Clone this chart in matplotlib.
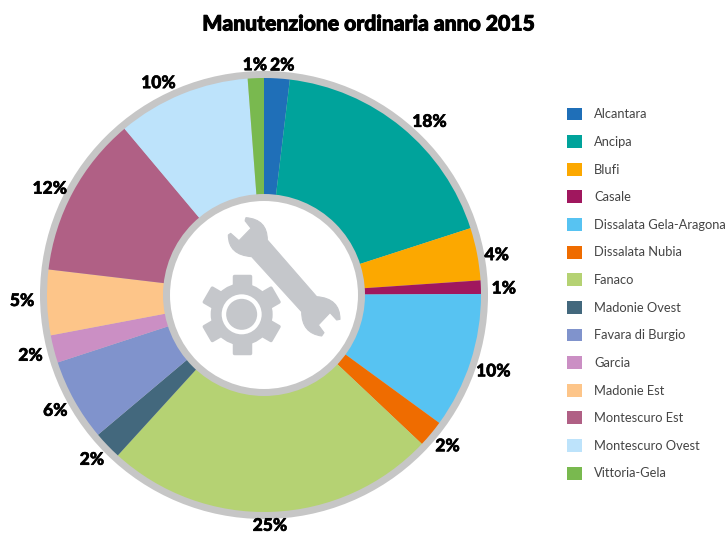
import numpy as np
import matplotlib
matplotlib.use("Agg")
import matplotlib.pyplot as plt
import matplotlib.patheffects as pe
from matplotlib.patches import Circle, PathPatch, Polygon
from matplotlib.path import Path

title = "Manutenzione ordinaria anno 2015"
categories = ["Alcantara", "Ancipa", "Blufi", "Casale", "Dissalata Gela-Aragona",
              "Dissalata Nubia", "Fanaco", "Madonie Ovest", "Favara di Burgio", "Garcia",
              "Madonie Est", "Montescuro Est", "Montescuro Ovest", "Vittoria-Gela"]
values = [1.9, 18.1, 3.9, 1.0, 10.1, 2.0, 24.7, 2.1, 6.1, 2.05, 4.85, 12.0, 9.9, 1.2]
colors = ["#1f6fb8", "#00a39b", "#fca800", "#a0175e", "#57c3f2", "#ef6c00", "#b5d273",
          "#43687d", "#8093cc", "#cb8fc4", "#fdc589", "#b06085", "#bde3fb", "#79b94f"]
# pixel nudges of the percentage labels away from their slice's mid-angle
label_dx = [4, 13, -3, 0, 1, -1, -3, 1, 1, -1, -2, -3, -15, 0]
label_dy = [-2, -6, -4, -2, -5, -3, 1, -4, -3, -3, 2, -4, -3, -2]

W, H = 728, 534
CX, CY = 264, H - 295
fig = plt.figure(figsize=(W / 100, H / 100), dpi=100)
ax = fig.add_axes([0, 0, 1, 1])
ax.set_xlim(0, W)
ax.set_ylim(0, H)
ax.set_aspect("equal")
ax.axis("off")

RING = "#c6c6c6"
ICON = "#c5c7cb"
ax.add_patch(Circle((CX, CY), 224, fc=RING, ec="none", zorder=1))
wedges, _ = ax.pie(values, colors=colors, startangle=90, counterclock=False,
                   radius=217, center=(CX, CY), frame=True,
                   wedgeprops=dict(linewidth=0, zorder=2))
ax.set_xlim(0, W)
ax.set_ylim(0, H)
ax.axis("off")
for w in wedges:
    w.set_zorder(2)
ax.add_patch(Circle((CX, CY), 101, fc=RING, ec="none", zorder=3))
ax.add_patch(Circle((CX, CY), 94, fc="white", ec="none", zorder=4))

# percentage labels
cum = np.cumsum(values)
total = cum[-1]
for v, c, dx, dy in zip(values, cum, label_dx, label_dy):
    a = 2 * np.pi * (c - v / 2) / total
    txt = ax.text(CX + 240 * np.sin(a) + dx, CY + 232 * np.cos(a) + dy, f"{round(v)}%",
                  ha="center", va="center", fontsize=12.5, family="Lato", weight="black",
                  color="black", zorder=6)
    txt.set_path_effects([pe.withStroke(linewidth=0.4, foreground="black")])

# icon: helpers map zoom-crop coordinates to figure pixels
def z(x, y):
    return (160 + x / 3, H - (190 + y / 3))

M, C3, L = Path.MOVETO, Path.CURVE3, Path.LINETO
wrench = [((255, 92), M), ((258, 83), L), ((322, 88), C3), ((322, 150), C3),
          ((470, 320), L), ((540, 325), C3), ((540, 388), C3), ((530, 390), L),
          ((510, 368), L), ((475, 405), L), ((492, 428), L), ((485, 438), L),
          ((425, 430), C3), ((425, 365), C3), ((275, 200), L), ((205, 195), C3),
          ((205, 135), C3), ((212, 130), L), ((237, 152), L), ((273, 115), L),
          ((255, 92), L)]
ax.add_patch(PathPatch(Path([z(*p) for p, _ in wrench], [k for _, k in wrench]),
                       fc=ICON, ec=ICON, lw=0.8, joinstyle="round", zorder=5))

gx, gy = z(245, 373)
ax.add_patch(Circle((gx, gy), 31, fc=ICON, ec="none", zorder=5))
for deg in range(30, 390, 60):
    t = np.radians(deg)
    u = np.array([np.cos(t), np.sin(t)])
    n = np.array([-u[1], u[0]])
    g = np.array([gx, gy])
    pts = [g + 25 * u + 8 * n, g + 38.5 * u + 8 * n, g + 38.5 * u - 8 * n, g + 25 * u - 8 * n]
    ax.add_patch(Polygon(pts, closed=True, fc=ICON, ec=ICON, lw=2.5, joinstyle="round", zorder=5))
ax.add_patch(Circle((gx, gy), 20, fc="white", ec="none", zorder=5.1))
ax.add_patch(Circle((gx, gy), 15.5, fc=ICON, ec="none", zorder=5.2))

ttl = ax.text(369, H - 24, title, ha="center", va="center", fontsize=15.2, family="Lato",
              weight="black", color="black", zorder=6)
ttl.set_path_effects([pe.withStroke(linewidth=0.7, foreground="black")])

fs = 9.3
hs = 15 * 0.72
leg = ax.legend(wedges, categories, loc="upper left", bbox_to_anchor=(567 / W, 1 - 107.5 / H),
                bbox_transform=fig.transFigure, frameon=False,
                handlelength=hs / fs, handleheight=hs / fs, handletextpad=12 * 0.72 / fs,
                labelspacing=(27.6 * 0.72 - hs + 1.52) / fs, borderpad=0, borderaxespad=0,
                prop=dict(family="Lato", size=fs))
for t in leg.get_texts():
    t.set_color("#444444")

fig.savefig("out.png", dpi=100, facecolor="white")
